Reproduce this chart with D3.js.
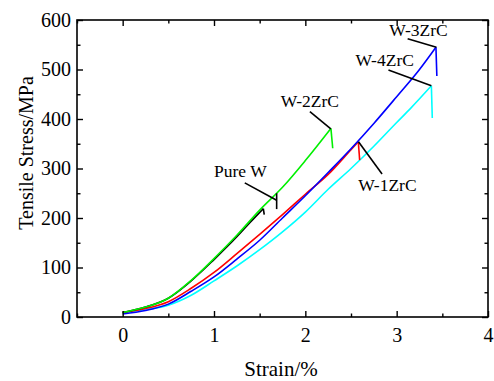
<!DOCTYPE html>
<html>
<head>
<meta charset="utf-8">
<script src="https://cdn.jsdelivr.net/npm/d3@7"></script>
<style>
  body { margin: 0; background: #fff; }
</style>
</head>
<body>
<div id="chart"></div>
<script>
// stress-strain curves: [strain %, stress MPa]
// last point of each is the fracture drop
const pureW = [[0, 9], [0.25, 20], [0.5, 38], [0.75, 73], [1, 116], [1.25, 162], [1.4, 192], [1.54, 219], [1.55, 207]]
const w1ZrC = [[0, 9], [0.25, 17], [0.5, 31], [0.75, 58], [1, 90], [1.25, 128], [1.5, 167], [1.75, 207], [2, 248], [2.25, 288], [2.5, 338], [2.58, 354], [2.595, 317]]
const w2ZrC = [[0, 9], [0.25, 20], [0.5, 38], [0.75, 74], [1, 118], [1.25, 165], [1.5, 216], [1.75, 262], [2, 316], [2.28, 381], [2.3, 341]]
const w3ZrC = [[0, 6], [0.25, 13], [0.5, 26], [0.75, 52], [1, 81], [1.25, 117], [1.5, 155], [1.75, 200], [2, 245], [2.25, 292], [2.5, 340], [2.75, 391], [3, 445], [3.25, 500], [3.43, 545], [3.44, 487]]
const w4ZrC = [[0, 9], [0.25, 15], [0.5, 24], [0.75, 44], [1, 73], [1.25, 103], [1.5, 136], [1.75, 172], [2, 212], [2.25, 258], [2.5, 300], [2.75, 345], [3, 393], [3.15, 421], [3.38, 467], [3.39, 402]]

const xTicks = [0, 1, 2, 3, 4]
const yTicks = [0, 100, 200, 300, 400, 500, 600]

// label text, text anchor point, pointer line (data units)
const labels = [
  {name: 'Pure W', at: [1.0, 283], from: [1.337, 271], to: [1.686, 236]},
  {name: 'W-2ZrC', at: [1.73, 424], from: [2.05, 415], to: [2.279, 380]},
  {name: 'W-1ZrC', at: [2.58, 254], from: [2.582, 354], to: [2.84, 289]},
  {name: 'W-3ZrC', at: [2.92, 568], from: [3.12, 562], to: [3.435, 545]},
  {name: 'W-4ZrC', at: [2.55, 507], from: [2.91, 499], to: [3.38, 467]}
]

const series = [
  {data: w4ZrC, color: '#00ffff'},
  {data: w1ZrC, color: '#ff0000'},
  {data: w3ZrC, color: '#0000ff'},
  {data: pureW, color: '#000000'},
  {data: w2ZrC, color: '#00f000'}
]

const font = 'Liberation Serif'
const outerWidth = 494
const outerHeight = 381
const margin = {top: 20, right: 6, bottom: 64, left: 77}
const width = outerWidth - margin.left - margin.right
const height = outerHeight - margin.top - margin.bottom

const raw = d3.select('#chart')
  .append('svg')
  .attr('width', outerWidth)
  .attr('height', outerHeight)
const svg = raw.append('g')
  .attr('transform', `translate(${margin.left},${margin.top})`)

const xs = d3.scaleLinear().domain([-0.5, 4]).range([0, width])
const ys = d3.scaleLinear().domain([0, 600]).range([height, 0])

// curves: smooth body, straight fracture drop
const line = d3.line()
  .x((d) => xs(d[0]))
  .y((d) => ys(d[1]))
  .curve(d3.curveMonotoneX)
const straight = d3.line()
  .x((d) => xs(d[0]))
  .y((d) => ys(d[1]))

series.forEach((s) => {
  const body = s.data.slice(0, -1)
  const drop = s.data.slice(-2)
  svg.append('path')
    .attr('d', line(body))
    .attr('fill', 'none')
    .attr('stroke', s.color)
    .attr('stroke-width', 1.6)
  svg.append('path')
    .attr('d', straight(drop))
    .attr('fill', 'none')
    .attr('stroke', s.color)
    .attr('stroke-width', 1.6)
})

// axes, ticks inward on all four sides
const minorX = d3.range(-0.5, 4.01, 0.5).filter((v) => !xTicks.includes(v))
const minorY = d3.range(50, 600, 100)

svg.append('g')
  .attr('transform', `translate(0,${height})`)
  .call(d3.axisBottom(xs).tickValues(xTicks).tickSize(-6).tickPadding(10.5).tickFormat(d3.format('d')))
  .call((g) => g.select('.domain').remove())
svg.append('g')
  .attr('transform', `translate(0,${height})`)
  .call(d3.axisBottom(xs).tickValues(minorX).tickSize(-3.5).tickFormat(''))
  .call((g) => g.select('.domain').remove())
svg.append('g')
  .call(d3.axisTop(xs).tickValues(xTicks).tickSize(-6).tickFormat(''))
  .call((g) => g.select('.domain').remove())
svg.append('g')
  .call(d3.axisTop(xs).tickValues(minorX).tickSize(-3.5).tickFormat(''))
  .call((g) => g.select('.domain').remove())

svg.append('g')
  .call(d3.axisLeft(ys).tickValues(yTicks).tickSize(-6).tickPadding(6))
  .call((g) => g.select('.domain').remove())
svg.append('g')
  .call(d3.axisLeft(ys).tickValues(minorY).tickSize(-3.5).tickFormat(''))
  .call((g) => g.select('.domain').remove())
svg.append('g')
  .attr('transform', `translate(${width},0)`)
  .call(d3.axisRight(ys).tickValues(yTicks).tickSize(-6).tickFormat(''))
  .call((g) => g.select('.domain').remove())
svg.append('g')
  .attr('transform', `translate(${width},0)`)
  .call(d3.axisRight(ys).tickValues(minorY).tickSize(-3.5).tickFormat(''))
  .call((g) => g.select('.domain').remove())

svg.selectAll('.tick line').attr('stroke', '#000').attr('stroke-width', 1.4)
svg.selectAll('.tick text')
  .attr('fill', '#000')
  .style('font-family', font)
  .style('font-size', '20px')

svg.append('rect')
  .attr('x', 0)
  .attr('y', 0)
  .attr('width', width)
  .attr('height', height)
  .attr('fill', 'none')
  .attr('stroke', '#000')
  .attr('stroke-width', 1.6)

// annotations
labels.forEach((l) => {
  svg.append('line')
    .attr('x1', xs(l.from[0])).attr('y1', ys(l.from[1]))
    .attr('x2', xs(l.to[0])).attr('y2', ys(l.to[1]))
    .attr('stroke', '#000')
    .attr('stroke-width', 1.6)
  svg.append('text')
    .attr('x', xs(l.at[0]))
    .attr('y', ys(l.at[1]))
    .style('font-family', font)
    .style('font-size', '17.5px')
    .text(l.name)
})
// the small bar at the end of the Pure W pointer
svg.append('line')
  .attr('x1', xs(1.686)).attr('y1', ys(250))
  .attr('x2', xs(1.686)).attr('y2', ys(218))
  .attr('stroke', '#000')
  .attr('stroke-width', 1.6)

// axis labels
svg.append('text')
  .attr('transform', 'rotate(-90)')
  .attr('y', 33 - margin.left)
  .attr('x', -(153 - margin.top))
  .attr('text-anchor', 'middle')
  .style('font-family', font)
  .style('font-size', '20px')
  .text('Tensile Stress/MPa')
svg.append('text')
  .attr('y', 376 - margin.top)
  .attr('x', 281 - margin.left)
  .attr('text-anchor', 'middle')
  .style('font-family', font)
  .style('font-size', '21px')
  .text('Strain/%')
</script>
</body>
</html>
